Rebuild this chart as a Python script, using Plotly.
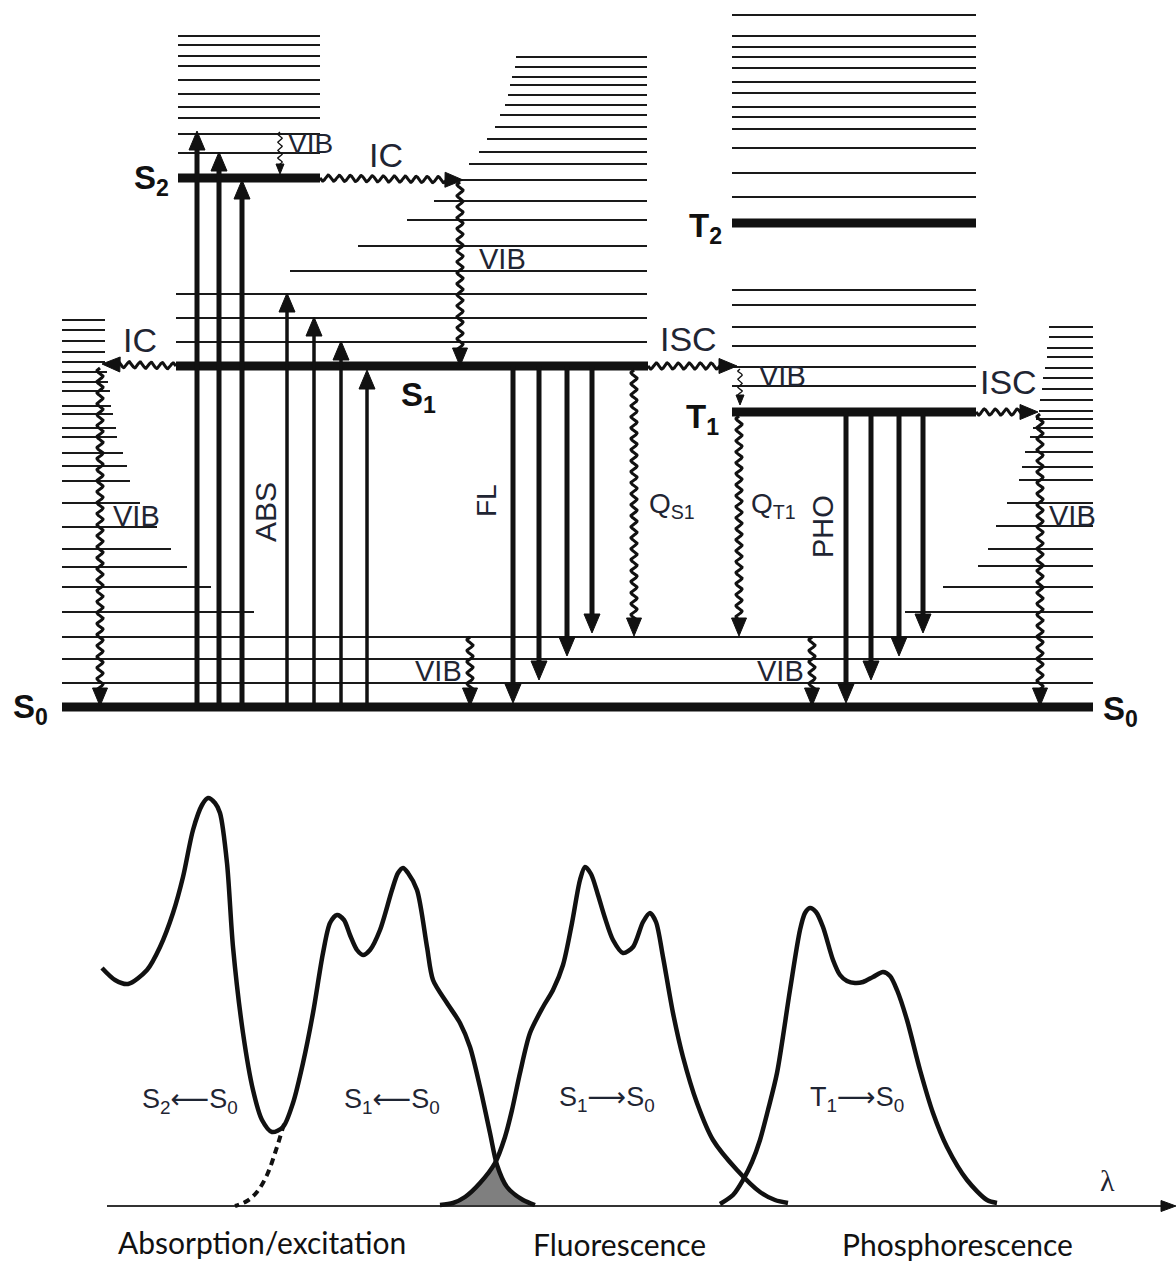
import numpy as np
import plotly.graph_objects as go

W, H = 1176, 1262

# ---------------- Jablonski diagram data (diagram units, y grows downward) ----------------
S2_Y = 178
S2_X = [178, 320]
S2_VIB_Y = [36, 45, 56, 66, 80, 94, 107, 118, 134, 153]

S1_Y = 366
S1_X = [176, 648]
S1_VIB_Y = [57, 67, 77, 85, 95, 105, 115, 127, 139, 152, 164, 180, 201, 220, 246, 271, 294, 318, 342]
S1_VIB_XL = [516, 515, 512, 510, 508, 505, 500, 495, 487, 479, 469, 460, 434, 407, 358, 290, 176, 176, 176]
S1_VIB_XR = 647

T_X = [732, 976]
T2_Y = 223
T2_VIB_Y = [15, 36, 47, 57, 68, 82, 93, 107, 117, 129, 148, 173, 197]
T1_Y = 412
T1_VIB_Y = [290, 305, 327, 346, 367, 386]

S0_Y = 707
S0_X = [62, 1093]
S0_COMMON_Y = [637, 659, 683]
S0_L_VIB_Y = [320, 330, 341, 352, 362, 372, 382, 391, 406, 414, 428, 437, 453, 466, 481, 503, 527, 549, 567, 587, 612]
S0_L_VIB_XR = [105, 105, 105, 105, 105, 107, 108, 110, 111, 113, 116, 117, 123, 127, 130, 140, 157, 171, 187, 211, 254]
S0_R_VIB_Y = [327, 337, 348, 357, 368, 378, 389, 400, 411, 419, 428, 437, 452, 467, 480, 503, 526, 549, 566, 587, 612]
S0_R_VIB_XL = [1049, 1049, 1047, 1047, 1045, 1043, 1042, 1040, 1039, 1036, 1033, 1030, 1025, 1022, 1019, 1007, 996, 988, 978, 943, 905]

# radiative transitions (straight arrows)
ABS_X = [197, 219, 242, 287, 314, 341, 367]
ABS_TIP = [131, 152, 180, 293, 317, 341, 370]
ABS_W = [5, 5, 5, 3.5, 3.5, 3.5, 3.5]
FL_X = [513, 539, 567, 592]
FL_TIP = [703, 680, 656, 633]
PHO_X = [846, 871, 899, 923]
PHO_TIP = [703, 680, 656, 633]

# non-radiative transitions (wavy arrows): x0, y0, x1, y1
WAVY_MAIN = [
    (176, 366, 102, 364),   # IC  S1 -> S0 (left)
    (100, 368, 100, 706),   # VIB left
    (320, 178, 463, 180),   # IC  S2 -> S1
    (460, 182, 460, 366),   # VIB in S1
    (648, 366, 737, 366),   # ISC S1 -> T1
    (634, 370, 634, 636),   # Q S1
    (739, 416, 739, 636),   # Q T1
    (470, 637, 470, 706),   # VIB S0 (middle)
    (812, 637, 812, 706),   # VIB S0 (right)
    (976, 412, 1038, 412),  # ISC T1 -> S0
    (1040, 414, 1040, 706), # VIB right
]
WAVY_THIN = [
    (280, 132, 280, 174),   # VIB in S2
    (740, 369, 740, 405),   # VIB in T1
]

# ---------------- spectra data ----------------
ABS_CURVE_X = [102, 115, 128, 147, 160, 173, 183, 193, 202, 208, 215, 220, 227, 233, 243, 253, 262, 272,
               283, 293, 303, 313, 323, 330, 337, 344, 350, 357, 363, 370, 380, 392, 398, 403, 408, 417,
               427, 433, 447, 460, 470, 480, 490, 497, 507, 523, 535]
ABS_CURVE_Y = [968, 980, 984, 970, 947, 913, 877, 830, 805, 798, 803, 813, 863, 947, 1033, 1090, 1120, 1132,
               1127, 1103, 1063, 1013, 953, 923, 915, 920, 935, 950, 955, 950, 930, 890, 873, 868, 873, 890,
               947, 980, 1003, 1023, 1047, 1087, 1133, 1165, 1187, 1200, 1205]
DASH_X = [284, 276, 267, 257, 247, 235]
DASH_Y = [1124, 1150, 1175, 1192, 1201, 1206]
FLUO_X = [440, 453, 465, 480, 495, 505, 512, 520, 530, 543, 553, 563, 572, 580, 585, 591, 598, 605, 613,
          623, 633, 643, 650, 656, 663, 673, 683, 697, 713, 737, 760, 775, 788]
FLUO_Y = [1205, 1203, 1197, 1183, 1163, 1137, 1110, 1073, 1033, 1007, 990, 965, 923, 880, 867, 874, 895,
          918, 940, 953, 947, 922, 913, 922, 957, 1013, 1057, 1103, 1140, 1170, 1192, 1200, 1203]
PHOS_X = [720, 733, 743, 752, 760, 768, 777, 790, 800, 805, 810, 816, 823, 833, 840, 847, 855, 863, 873,
          883, 890, 897, 907, 920, 933, 947, 967, 987, 997]
PHOS_Y = [1204, 1195, 1180, 1162, 1140, 1110, 1073, 990, 930, 913, 908, 912, 927, 960, 975, 981, 983, 982,
          977, 972, 976, 990, 1020, 1070, 1113, 1147, 1180, 1200, 1203]
OVERLAP_X = [453, 465, 480, 495, 507, 523, 535]
OVERLAP_Y = [1205, 1197, 1183, 1163, 1187, 1200, 1205]
AXIS_Y = 1206
AXIS_X = [107, 1176]

# ---------------- labels ----------------
LARR = "<span style='font-family:DejaVu Sans'>⟵</span>"
RARR = "<span style='font-family:DejaVu Sans'>⟶</span>"
LEVEL_LABELS = [("S<sub>2</sub>", 151, 180), ("S<sub>1</sub>", 418, 397), ("T<sub>2</sub>", 705, 228),
                ("T<sub>1</sub>", 702, 419), ("S<sub>0</sub>", 30, 709), ("S<sub>0</sub>", 1120, 711)]
PROC_LABELS = [("IC", 140, 340, 34, 0), ("IC", 386, 155, 34, 0), ("VIB", 310, 143, 28, 0),
               ("VIB", 502, 259, 29, 0), ("ISC", 688, 339, 34, 0), ("VIB", 782, 376, 29, 0),
               ("ISC", 1008, 382, 34, 0), ("VIB", 136, 516, 29, 0), ("VIB", 438, 671, 29, 0),
               ("VIB", 780, 671, 29, 0), ("VIB", 1072, 516, 29, 0), ("ABS", 265, 512, 30, -90),
               ("FL", 486, 501, 28, -90), ("PHO", 823, 527, 29, -90),
               ("Q<sub>S1</sub>", 672, 505, 28, 0), ("Q<sub>T1</sub>", 773, 505, 28, 0)]
BAND_LABELS = [("S<sub>2</sub>" + LARR + "S<sub>0</sub>", 190, 1100),
               ("S<sub>1</sub>" + LARR + "S<sub>0</sub>", 392, 1100),
               ("S<sub>1</sub>" + RARR + "S<sub>0</sub>", 607, 1098),
               ("T<sub>1</sub>" + RARR + "S<sub>0</sub>", 857, 1098)]
REGION_LABELS = [("Absorption/excitation", 262, 1242), ("Fluorescence", 619, 1244), ("Phosphorescence", 957, 1244)]

INK = "#111111"
TXT = "#1f2533"

fig = go.Figure()


def add_segments(segs, width, color=INK):
    xs, ys = [], []
    for (x0, y0, x1, y1) in segs:
        xs += [x0, x1, None]
        ys += [y0, y1, None]
    fig.add_trace(go.Scatter(x=xs, y=ys, mode="lines", line=dict(color=color, width=width),
                             hoverinfo="skip", showlegend=False))


def unit(x0, y0, x1, y1):
    d = np.array([x1 - x0, y1 - y0], dtype=float)
    L = np.hypot(*d)
    return d / L, L


def head_poly(x1, y1, u, hl, hw):
    p = np.array([-u[1], u[0]])
    tip = np.array([x1, y1], dtype=float)
    base = tip - u * hl
    a = base + p * hw / 2
    b = base - p * hw / 2
    return [tip[0], a[0], b[0], tip[0], None], [tip[1], a[1], b[1], tip[1], None]


heads_x, heads_y = [], []


def add_heads(hx, hy):
    heads_x.extend(hx)
    heads_y.extend(hy)


# ---- thin vibrational levels ----
thin = []
thin += [(S2_X[0], y, S2_X[1], y) for y in S2_VIB_Y]
thin += [(xl, y, S1_VIB_XR, y) for y, xl in zip(S1_VIB_Y, S1_VIB_XL)]
thin += [(T_X[0], y, T_X[1], y) for y in T2_VIB_Y + T1_VIB_Y]
thin += [(S0_X[0], y, xr, y) for y, xr in zip(S0_L_VIB_Y, S0_L_VIB_XR)]
thin += [(xl, y, S0_X[1], y) for y, xl in zip(S0_R_VIB_Y, S0_R_VIB_XL)]
thin += [(S0_X[0], y, S0_X[1], y) for y in S0_COMMON_Y]
add_segments(thin, 1.8, "#1a1a1a")

# ---- electronic levels ----
thick = [(S2_X[0], S2_Y, S2_X[1], S2_Y), (S1_X[0], S1_Y, S1_X[1], S1_Y),
         (T_X[0], T2_Y, T_X[1], T2_Y), (T_X[0], T1_Y, T_X[1], T1_Y),
         (S0_X[0], S0_Y, S0_X[1], S0_Y)]
add_segments(thick, 9)

# ---- straight arrows ----
HL, HW = 19, 16
groups = {}
for x, tip, w in zip(ABS_X, ABS_TIP, ABS_W):
    groups.setdefault(w, []).append((x, S0_Y, x, tip))
for x, tip in zip(FL_X, FL_TIP):
    groups.setdefault(5, []).append((x, S1_Y, x, tip))
for x, tip in zip(PHO_X, PHO_TIP):
    groups.setdefault(5, []).append((x, T1_Y, x, tip))
for w, segs in groups.items():
    shafts = []
    for (x0, y0, x1, y1) in segs:
        u, L = unit(x0, y0, x1, y1)
        e = np.array([x1, y1]) - u * HL * 0.6
        shafts.append((x0, y0, e[0], e[1]))
        add_heads(*head_poly(x1, y1, u, HL, HW))
    add_segments(shafts, w)


# ---- wavy arrows ----
def add_wavy(items, width, amp, wl, hl, hw):
    xs, ys = [], []
    for (x0, y0, x1, y1) in items:
        u, L = unit(x0, y0, x1, y1)
        p = np.array([-u[1], u[0]])
        ls = L - hl * 0.7
        s = np.linspace(0, ls, max(int(ls * 2), 12))
        off = amp * np.sin(2 * np.pi * s / wl)
        px = x0 + u[0] * s + p[0] * off
        py = y0 + u[1] * s + p[1] * off
        xs += list(px) + [None]
        ys += list(py) + [None]
        add_heads(*head_poly(x1, y1, u, hl, hw))
    fig.add_trace(go.Scatter(x=xs, y=ys, mode="lines", line=dict(color=INK, width=width),
                             hoverinfo="skip", showlegend=False))


add_wavy(WAVY_MAIN, 3.0, 3.0, 11, 18, 15)
add_wavy(WAVY_THIN, 1.3, 2.2, 8, 10, 8)

# ---- spectra ----
fig.add_trace(go.Scatter(x=OVERLAP_X, y=OVERLAP_Y, mode="lines", fill="toself", fillcolor="#7f7f7f",
                         line=dict(width=0, color="#7f7f7f"), hoverinfo="skip", showlegend=False))
fig.add_trace(go.Scatter(x=AXIS_X[:1] + [AXIS_X[1] - 10], y=[AXIS_Y, AXIS_Y], mode="lines",
                         line=dict(color="#333333", width=2), hoverinfo="skip", showlegend=False))
add_heads(*head_poly(AXIS_X[1], AXIS_Y, np.array([1.0, 0.0]), 15, 11))
for cx, cy in [(ABS_CURVE_X, ABS_CURVE_Y), (FLUO_X, FLUO_Y), (PHOS_X, PHOS_Y)]:
    fig.add_trace(go.Scatter(x=cx, y=cy, mode="lines",
                             line=dict(color=INK, width=4.5, shape="spline", smoothing=0.8),
                             hoverinfo="skip", showlegend=False))
fig.add_trace(go.Scatter(x=DASH_X, y=DASH_Y, mode="lines",
                         line=dict(color=INK, width=4, dash="7px,5px", shape="spline"),
                         hoverinfo="skip", showlegend=False))

# all arrow heads
fig.add_trace(go.Scatter(x=heads_x, y=heads_y, mode="lines", fill="toself", fillcolor=INK,
                         line=dict(color=INK, width=1), hoverinfo="skip", showlegend=False))

# ---- annotations ----
ann = []
for t, x, y in LEVEL_LABELS:
    ann.append(dict(x=x, y=y, text="<b>" + t + "</b>", showarrow=False,
                    font=dict(family="Liberation Sans, Arial", size=33, color=INK)))
for t, x, y, s, a in PROC_LABELS:
    ann.append(dict(x=x, y=y, text=t, showarrow=False, textangle=a,
                    font=dict(family="Liberation Sans, Arial", size=s, color=TXT)))
for t, x, y in BAND_LABELS:
    ann.append(dict(x=x, y=y, text=t, showarrow=False,
                    font=dict(family="Liberation Sans, Arial", size=27, color=TXT)))
for t, x, y in REGION_LABELS:
    ann.append(dict(x=x, y=y, text=t, showarrow=False,
                    font=dict(family="Lato", size=30, color=INK)))
ann.append(dict(x=1107, y=1180, text="λ", showarrow=False,
                font=dict(family="Liberation Serif", size=30, color=TXT)))
for a in ann:
    a.update(xref="x", yref="y", xanchor="center", yanchor="middle")

fig.update_layout(
    width=W, height=H, autosize=False,
    margin=dict(l=0, r=0, t=0, b=0, pad=0),
    paper_bgcolor="white", plot_bgcolor="white",
    xaxis=dict(range=[0, W], visible=False, fixedrange=True),
    yaxis=dict(range=[H, 0], visible=False, fixedrange=True),
    annotations=ann, showlegend=False,
)

fig.write_html("out.html", config={"displayModeBar": False, "staticPlot": True},
               post_script="document.body.style.margin='0';document.body.style.overflow='hidden';")
